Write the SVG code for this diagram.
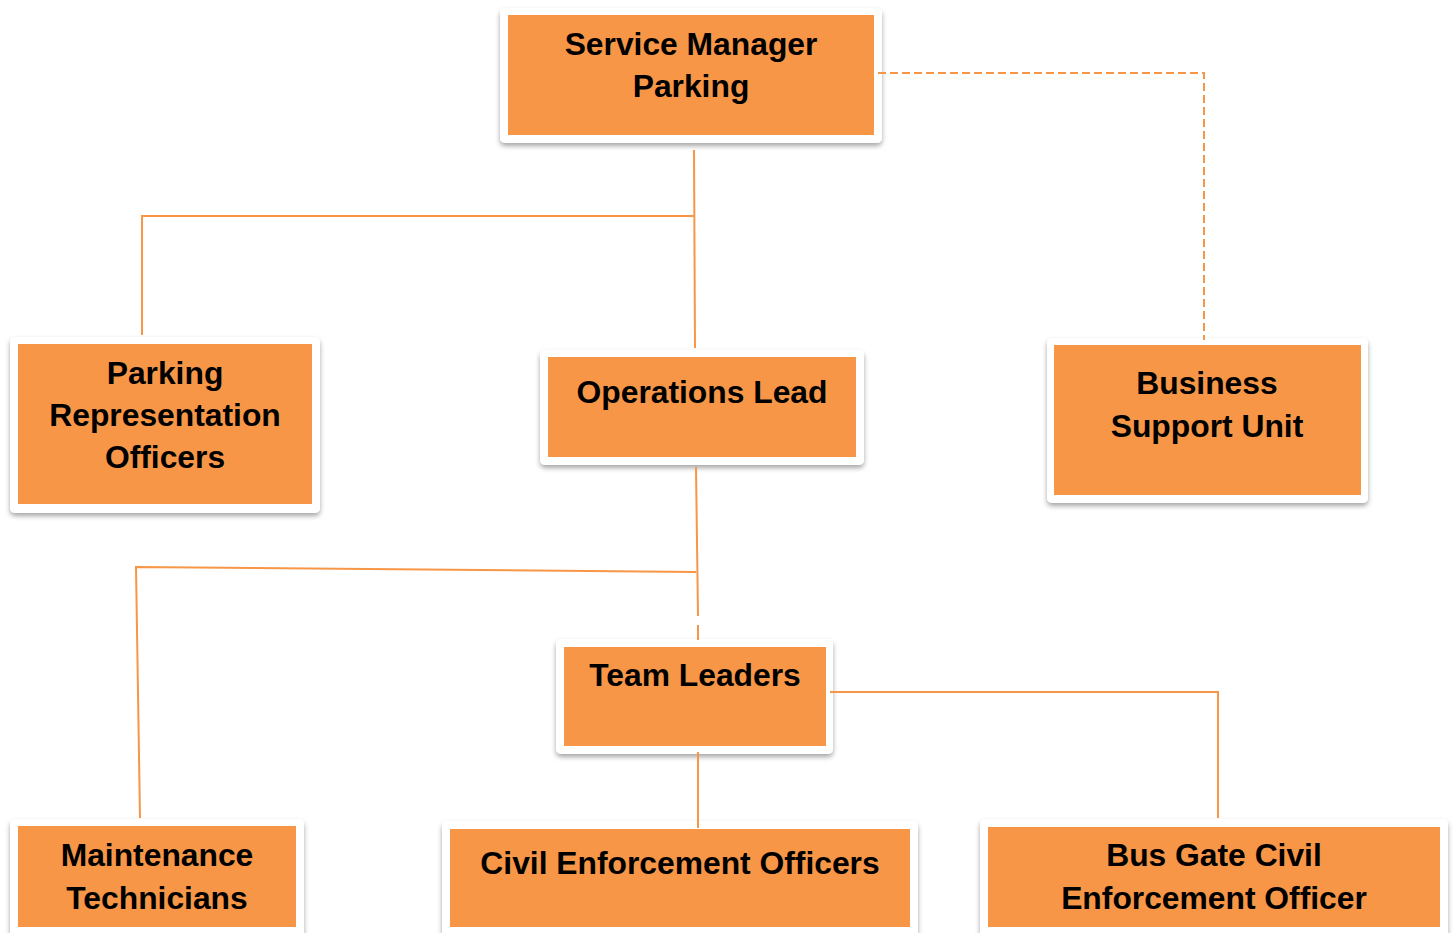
<svg xmlns="http://www.w3.org/2000/svg" width="1454" height="933" viewBox="0 0 1454 933">
<defs>
<filter id="sh" x="-10%" y="-10%" width="120%" height="130%">
<feDropShadow dx="0" dy="3" stdDeviation="2.5" flood-color="#000" flood-opacity="0.35"/>
</filter>
<style>
.outer{fill:#fff;filter:url(#sh)}
.inner{fill:#F79646}
.t{font-family:"Liberation Sans",Arial,sans-serif;font-weight:bold;font-size:31.8px;fill:#000;text-anchor:middle}
.c{fill:none;stroke:#F79646;stroke-width:2}
.d{stroke-dasharray:8 4}
</style>
</defs>
<rect width="1454" height="933" fill="#fff"/>
<g id="service-manager">
<rect class="outer" x="500" y="8" width="382" height="135" rx="5"/>
<rect class="inner" x="508" y="15" width="366" height="120"/>
<text class="t" x="691" y="55">Service Manager</text>
<text class="t" x="691" y="97">Parking</text>
</g>
<g id="parking-rep">
<rect class="outer" x="10" y="337" width="310" height="176" rx="5"/>
<rect class="inner" x="18" y="344" width="294" height="160"/>
<text class="t" x="165" y="384">Parking</text>
<text class="t" x="165" y="426">Representation</text>
<text class="t" x="165" y="468">Officers</text>
</g>
<g id="operations-lead">
<rect class="outer" x="540" y="350" width="324" height="115" rx="5"/>
<rect class="inner" x="548" y="357" width="308" height="100"/>
<text class="t" x="702" y="403">Operations Lead</text>
</g>
<g id="business-support">
<rect class="outer" x="1047" y="338" width="321" height="165" rx="5"/>
<rect class="inner" x="1054" y="345" width="307" height="150"/>
<text class="t" x="1207" y="394">Business</text>
<text class="t" x="1207" y="437">Support Unit</text>
</g>
<g id="team-leaders">
<rect class="outer" x="556" y="639" width="277" height="115" rx="5"/>
<rect class="inner" x="564" y="647" width="262" height="99"/>
<text class="t" x="695" y="686">Team Leaders</text>
</g>
<g id="maintenance">
<rect class="outer" x="10" y="819" width="294" height="130" rx="5"/>
<rect class="inner" x="18" y="826" width="278" height="101"/>
<text class="t" x="157" y="866">Maintenance</text>
<text class="t" x="157" y="909">Technicians</text>
</g>
<g id="civil-enforcement">
<rect class="outer" x="442" y="821" width="476" height="130" rx="5"/>
<rect class="inner" x="450" y="829" width="460" height="98"/>
<text class="t" x="680" y="874">Civil Enforcement Officers</text>
</g>
<g id="bus-gate">
<rect class="outer" x="980" y="819" width="468" height="130" rx="5"/>
<rect class="inner" x="988" y="827" width="452" height="100"/>
<text class="t" x="1214" y="866">Bus Gate Civil</text>
<text class="t" x="1214" y="909">Enforcement Officer</text>
</g>
<g id="connectors">
<path class="c" d="M694 150 L695 348"/>
<path class="c" d="M694 216 L142 216 L142 335"/>
<path class="c d" d="M878 73 L1204 73 L1204 340"/>
<path class="c" d="M696 467 L698 616 M698 625 L698 640"/>
<path class="c" d="M696 572 L136 567 L140 818"/>
<path class="c" d="M830 692 L1218 692 L1218 818"/>
<path class="c" d="M698 752 L698 828"/>
</g>
</svg>
